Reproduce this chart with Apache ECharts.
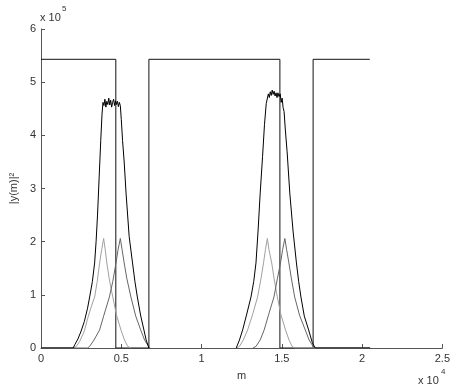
<!DOCTYPE html>
<html>
<head>
<meta charset="utf-8">
<script src="https://cdn.jsdelivr.net/npm/echarts@6/dist/echarts.min.js"></script>
<style>
  html, body { margin: 0; padding: 0; background: #fff; }
  #chart { width: 453px; height: 388px; }
</style>
</head>
<body>
<div id="chart"></div>
<script>
// x in units of 1e4, y in units of 1e5 (as on the axes)
var xTicks = [0, 0.5, 1, 1.5, 2, 2.5];
var yTicks = [0, 1, 2, 3, 4, 5, 6];

// square window (black)
var windowLine = [[0, 5.43], [0.466, 5.43], [0.466, 0], [0.672, 0], [0.672, 5.43],
    [1.488, 5.43], [1.488, 0], [1.695, 0], [1.695, 5.43], [2.048, 5.43]];

// total |y(m)|^2 (black), two lobes
var totalA = [[0, 0], [0.20, 0], [0.21, 0.06], [0.23, 0.17], [0.25, 0.32], [0.27, 0.5], [0.29, 0.75],
    [0.303, 0.96], [0.32, 1.25], [0.334, 1.6], [0.343, 2.0], [0.352, 2.5], [0.362, 3.2],
    [0.372, 3.9], [0.38, 4.4], [0.386, 4.62], [0.392, 4.56], [0.398, 4.68], [0.404, 4.53],
    [0.41, 4.64], [0.416, 4.58], [0.422, 4.7], [0.428, 4.57], [0.434, 4.66], [0.44, 4.53],
    [0.446, 4.62], [0.452, 4.68], [0.458, 4.56], [0.464, 4.65], [0.47, 4.58], [0.476, 4.64],
    [0.482, 4.54], [0.488, 4.62], [0.494, 4.56], [0.5, 4.3], [0.508, 3.9], [0.518, 3.5],
    [0.53, 2.9], [0.549, 2.1], [0.57, 1.6], [0.585, 1.25], [0.60, 0.96], [0.62, 0.62],
    [0.641, 0.34], [0.655, 0.15], [0.672, 0]];
var totalB = [[1.216, 0], [1.236, 0.15], [1.256, 0.34], [1.28, 0.62], [1.308, 0.96], [1.325, 1.25],
    [1.339, 1.6], [1.352, 2.2], [1.365, 2.9], [1.38, 3.6], [1.392, 4.2], [1.403, 4.6],
    [1.416, 4.78], [1.422, 4.71], [1.428, 4.82], [1.434, 4.75], [1.44, 4.85], [1.446, 4.77],
    [1.452, 4.83], [1.458, 4.74], [1.464, 4.8], [1.47, 4.71], [1.476, 4.8], [1.482, 4.73],
    [1.49, 4.78], [1.496, 4.62], [1.502, 4.7], [1.508, 4.52], [1.514, 4.45], [1.522, 4.1],
    [1.533, 3.69], [1.55, 2.9], [1.57, 2.2], [1.591, 1.6], [1.605, 1.25], [1.619, 0.96],
    [1.64, 0.6], [1.667, 0.34], [1.69, 0.1], [1.708, 0], [2.05, 0]];

// first component (light gray)
var compA1 = [[0, 0], [0.20, 0], [0.22, 0.03], [0.24, 0.12], [0.26, 0.25], [0.272, 0.34], [0.29, 0.55],
    [0.31, 0.75], [0.334, 0.96], [0.35, 1.25], [0.365, 1.6], [0.378, 1.85], [0.39, 2.06],
    [0.40, 1.85], [0.41, 1.6], [0.425, 1.3], [0.447, 0.96], [0.47, 0.62], [0.498, 0.34],
    [0.52, 0.15], [0.54, 0.03], [0.56, 0]];
var compA2 = [[1.22, 0], [1.236, 0.03], [1.26, 0.15], [1.287, 0.34], [1.32, 0.65], [1.349, 0.96],
    [1.37, 1.3], [1.386, 1.6], [1.398, 1.85], [1.41, 2.06], [1.42, 1.85], [1.437, 1.6],
    [1.452, 1.3], [1.472, 0.96], [1.495, 0.62], [1.523, 0.34], [1.545, 0.15], [1.564, 0.03],
    [1.58, 0], [2.05, 0]];

// second component (dark gray)
var compB1 = [[0, 0], [0.29, 0], [0.303, 0.03], [0.33, 0.15], [0.365, 0.34], [0.39, 0.6], [0.426, 0.96],
    [0.447, 1.25], [0.467, 1.6], [0.48, 1.85], [0.494, 2.06], [0.505, 1.85], [0.518, 1.6],
    [0.535, 1.3], [0.56, 0.96], [0.59, 0.6], [0.621, 0.34], [0.645, 0.15], [0.672, 0.02], [0.68, 0]];
var compB2 = [[1.32, 0], [1.339, 0.03], [1.365, 0.15], [1.39, 0.34], [1.42, 0.65], [1.451, 0.96],
    [1.472, 1.3], [1.492, 1.6], [1.505, 1.85], [1.519, 2.06], [1.53, 1.85], [1.544, 1.6],
    [1.56, 1.3], [1.58, 0.96], [1.61, 0.62], [1.646, 0.34], [1.67, 0.15], [1.697, 0.02],
    [1.71, 0], [2.05, 0]];

var font = 'Liberation Sans';
var txt = '#333';

function line(name, data, color) {
    return {
        name: name,
        type: 'line',
        data: data,
        symbol: 'none',
        animation: false,
        lineStyle: { color: color, width: 1 }
    };
}

var chart = echarts.init(document.getElementById('chart'));
chart.setOption({
    backgroundColor: '#fff',
    animation: false,
    grid: { left: 39, right: 8, top: 29, bottom: 40 },
    xAxis: {
        type: 'value',
        min: xTicks[0],
        max: xTicks[xTicks.length - 1],
        interval: 0.5,
        name: 'm',
        nameLocation: 'middle',
        nameGap: 22,
        nameTextStyle: { color: txt, fontSize: 11, fontFamily: font },
        axisLine: { lineStyle: { color: '#555', width: 1 } },
        axisTick: { inside: true, length: 4, lineStyle: { color: '#555' } },
        axisLabel: { color: txt, fontSize: 11, fontFamily: font, margin: 5,
            formatter: function(v) { return String(v); } },
        splitLine: { show: false }
    },
    yAxis: {
        type: 'value',
        min: yTicks[0],
        max: yTicks[yTicks.length - 1],
        interval: 1,
        name: '|y(m)|²',
        nameLocation: 'middle',
        nameRotate: 90,
        nameGap: 12,
        nameTextStyle: { color: txt, fontSize: 11, fontFamily: font },
        axisLine: { show: true, lineStyle: { color: '#555', width: 1 } },
        axisTick: { show: true, inside: true, length: 4, lineStyle: { color: '#555' } },
        axisLabel: { color: txt, fontSize: 11, fontFamily: font, margin: 5 },
        splitLine: { show: false }
    },
    series: [
        line('window', windowLine, '#111'),
        line('comp1a', compA1, '#a0a0a0'),
        line('comp1b', compA2, '#a0a0a0'),
        line('comp2a', compB1, '#666666'),
        line('comp2b', compB2, '#666666'),
        line('totalA', totalA, '#000'),
        line('totalB', totalB, '#000')
    ],
    graphic: [
        { type: 'text', left: 40, top: 12, style: { text: 'x 10', fill: txt, font: '11px ' + font } },
        { type: 'text', left: 62, top: 5, style: { text: '5', fill: txt, font: '8px ' + font } },
        { type: 'text', left: 418, top: 375, style: { text: 'x 10', fill: txt, font: '11px ' + font } },
        { type: 'text', left: 441, top: 368, style: { text: '4', fill: txt, font: '8px ' + font } }
    ]
});
</script>
</body>
</html>
